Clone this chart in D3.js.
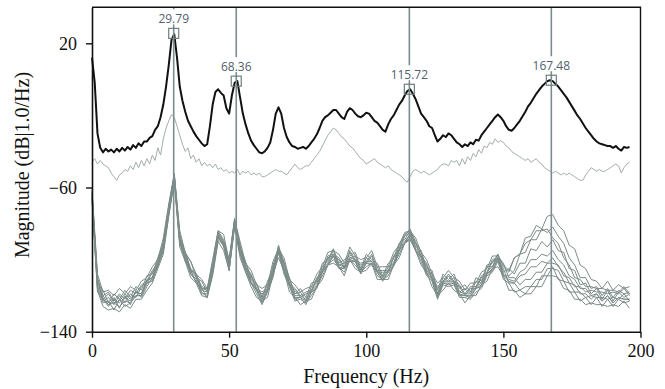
<!DOCTYPE html>
<html>
<head>
<meta charset="utf-8">
<script src="https://cdn.jsdelivr.net/npm/d3@7"></script>
<style>
  body { margin: 0; background: #fff; }
  svg { display: block; }
</style>
</head>
<body>
<div id="chart"></div>
<script>
// frequency grids (Hz)
const freqFine = d3.range(0, 197, 1);
const freqCoarse = d3.range(0, 197, 2);

// averaged spectrum (black), 1 Hz bins
const meanDb = [
  12,-2,-30,-38,-40.5,-38.5,-40,-39,-40.5,-38.5,
  -40,-38,-39.5,-37.5,-39,-36.5,-38,-35.5,-37,-34.5,
  -34.5,-32.5,-31.5,-28,-26,-21,-14,-4,8,22,
  25,12,-4,-12,-18,-23,-26,-29,-31.5,-33.5,
  -35.5,-37,-36,-26,-14,-7,-5.5,-7.5,-9,-16,
  -19,-9,-2,-1,-10,-19,-25,-30,-34,-36.5,
  -38.5,-40.5,-41,-40,-38,-35,-28,-19,-15.5,-19,
  -27,-32,-35,-37,-37.5,-38.5,-38,-37.5,-38.5,-37,
  -35,-33,-30.5,-27,-23,-21,-20,-18.5,-17,-17,
  -19,-21,-22,-18,-16,-17,-19,-20.5,-21,-20,
  -18.5,-19,-21,-23,-24,-26,-28,-29,-25,-22,
  -20,-17,-14,-12,-9,-6.5,-5.5,-8,-11,-15,
  -19,-21,-23,-26,-27,-31,-34.5,-33,-31,-32,
  -30,-31,-33,-35,-36,-37.5,-36,-37,-35,-36,
  -33.5,-34,-31,-29,-27,-25,-23,-21,-19.5,-21,
  -23,-26,-28,-28.5,-27,-25,-23,-20.5,-18,-15,
  -13,-10.5,-8,-6,-4,-2.5,-1,-0.5,-1,-2.5,
  -4,-6,-8,-10,-12.5,-15,-17.5,-20,-22,-24.5,
  -27,-29,-31,-33,-34.5,-35.5,-36,-36.5,-37,-37,
  -38,-37,-38.5,-39.5,-37.5,-38,-37.5
];

// reference spectrum (light grey), 1 Hz bins
const refDb = [
  -46,-44,-47,-45,-47,-48,-49,-52,-54,-56,
  -53,-52,-50,-51,-48,-50,-46,-49,-45,-48,
  -44,-47,-42,-45,-38,-42,-33,-27,-23,-19.5,
  -21,-26,-31,-36,-40,-38,-44,-42,-46,-44,
  -48,-46,-48,-47,-49,-47,-50,-49,-51,-50,
  -52,-51,-52,-50,-53,-51,-52,-51,-53,-52,
  -53,-52,-54,-54,-53,-52,-51,-50,-51,-51,
  -52,-53,-51,-49,-47,-49,-50,-49,-48,-48,
  -46,-44,-42,-40,-37,-34,-31,-29,-27,-28,
  -30,-32,-33,-35,-37,-38,-40,-42,-44,-45,
  -47,-46,-45,-44,-46,-47,-48,-49,-48,-50,
  -51,-52,-53,-54,-56,-57,-54,-51,-50,-51,
  -52,-51,-52,-53,-52,-51,-50,-48,-47,-47,
  -48,-45,-46,-45,-48,-44,-47,-43,-45,-41,
  -43,-39,-41,-37,-38,-35,-36,-33,-35,-34,
  -35,-37,-38,-40,-41,-42,-43,-44,-45,-44,
  -46,-45,-44,-46,-47,-49,-50,-51,-52,-51,
  -52,-53,-52,-53,-52,-53,-54,-55,-56,-56,
  -53,-51,-49,-50,-51,-50,-51,-51,-50,-49,
  -48,-47,-48,-52,-49,-47,-46
];

// individual measurements (grey bundle), 2 Hz bins
const run1 = [
  -62,-113,-117,-124,-119,-122,-117,-121,-115,-117,
  -109,-108,-99,-91,-70,-52,-86,-97,-101,-110,
  -112,-118,-101,-84,-89,-100,-77,-93,-101,-110,
  -113,-121,-112,-106,-92,-102,-110,-119,-116,-121,
  -113,-112,-102,-100,-94,-102,-100,-98,-96,-105,
  -97,-100,-102,-109,-102,-99,-91,-87,-83,-91,
  -95,-105,-106,-117,-108,-111,-108,-116,-114,-118,
  -110,-112,-103,-102,-97,-104,-107,-99,-97,-88,
  -87,-81,-83,-76,-75,-81,-84,-92,-94,-103,
  -105,-111,-112,-116,-112,-117,-114,-116,-115
];
const run2 = [
  -66,-116,-124,-123,-128,-122,-126,-124,-120,-120,
  -113,-112,-103,-95,-74,-55,-91,-99,-108,-111,
  -119,-119,-107,-87,-93,-104,-80,-97,-105,-113,
  -117,-124,-117,-109,-96,-106,-114,-122,-121,-125,
  -118,-116,-107,-103,-98,-105,-105,-101,-101,-108,
  -102,-103,-107,-112,-107,-104,-95,-91,-86,-95,
  -99,-108,-111,-121,-113,-114,-113,-120,-120,-121,
  -116,-115,-108,-106,-100,-109,-109,-106,-97,-96,
  -89,-89,-83,-85,-82,-87,-91,-99,-103,-110,
  -110,-116,-115,-120,-116,-121,-117,-119,-118
];
const run3 = [
  -63,-111,-122,-119,-124,-123,-119,-122,-118,-119,
  -111,-110,-100,-93,-71,-53,-88,-96,-106,-108,
  -116,-116,-105,-85,-91,-101,-78,-95,-102,-111,
  -114,-121,-114,-107,-93,-104,-111,-119,-118,-123,
  -115,-113,-104,-101,-95,-103,-102,-99,-98,-106,
  -99,-101,-104,-110,-104,-102,-92,-89,-84,-93,
  -96,-106,-108,-119,-110,-112,-110,-118,-116,-119,
  -112,-113,-104,-104,-97,-107,-105,-108,-102,-102,
  -94,-95,-90,-93,-89,-95,-96,-105,-106,-114,
  -113,-119,-116,-122,-117,-123,-118,-121,-119
];
const run4 = [
  -65,-114,-120,-125,-122,-124,-121,-123,-118,-119,
  -112,-110,-102,-94,-73,-55,-90,-98,-107,-110,
  -117,-118,-106,-87,-92,-103,-80,-96,-104,-112,
  -116,-122,-116,-107,-95,-105,-113,-120,-120,-122,
  -117,-114,-106,-102,-97,-103,-104,-99,-100,-106,
  -101,-101,-106,-110,-106,-102,-94,-90,-86,-94,
  -98,-106,-110,-119,-112,-112,-112,-118,-119,-119,
  -115,-113,-107,-104,-99,-108,-111,-112,-107,-105,
  -100,-100,-97,-98,-95,-100,-103,-109,-111,-116,
  -116,-120,-119,-123,-120,-124,-121,-122,-122
];
const run5 = [
  -64,-111,-123,-121,-125,-120,-124,-119,-121,-115,
  -113,-107,-103,-91,-72,-54,-89,-97,-106,-109,
  -116,-117,-105,-86,-91,-102,-79,-93,-105,-109,
  -117,-119,-117,-104,-95,-102,-114,-117,-121,-119,
  -118,-111,-107,-99,-98,-100,-105,-96,-101,-103,
  -102,-98,-107,-107,-107,-99,-95,-87,-85,-91,
  -99,-103,-111,-116,-113,-109,-113,-115,-120,-116,
  -116,-110,-108,-101,-100,-105,-113,-113,-117,-115,
  -115,-111,-111,-105,-105,-106,-112,-113,-118,-118,
  -121,-120,-121,-121,-122,-121,-122,-119,-123
];
const run6 = [
  -67,-117,-126,-128,-127,-129,-125,-127,-122,-122,
  -117,-113,-105,-97,-76,-57,-93,-101,-110,-113,
  -120,-121,-109,-90,-95,-106,-82,-99,-107,-115,
  -121,-123,-121,-108,-99,-106,-118,-121,-125,-123,
  -122,-115,-111,-103,-102,-104,-109,-100,-105,-107,
  -106,-102,-111,-111,-111,-103,-99,-91,-89,-95,
  -103,-107,-115,-120,-117,-113,-117,-119,-124,-120,
  -120,-114,-112,-105,-104,-109,-117,-117,-121,-119,
  -119,-115,-115,-109,-109,-110,-116,-117,-122,-122,
  -125,-124,-125,-125,-126,-125,-126,-123,-127
];
const run7 = [
  -61,-108,-118,-117,-120,-116,-119,-115,-117,-112,
  -110,-104,-100,-88,-69,-53,-84,-96,-101,-108,
  -111,-116,-100,-84,-86,-101,-78,-90,-102,-106,
  -114,-116,-114,-101,-94,-99,-111,-114,-118,-116,
  -115,-108,-104,-96,-95,-97,-102,-93,-98,-100,
  -99,-95,-104,-104,-104,-96,-92,-85,-84,-88,
  -96,-100,-108,-113,-110,-106,-110,-112,-117,-113,
  -113,-107,-105,-98,-98,-102,-110,-110,-114,-111,
  -111,-107,-107,-102,-102,-103,-109,-110,-115,-115,
  -118,-117,-118,-118,-119,-118,-119,-116,-120
];
const run8 = [
  -66,-118,-122,-126,-121,-127,-120,-125,-117,-121,
  -115,-110,-104,-95,-75,-56,-91,-100,-108,-112,
  -118,-121,-107,-89,-92,-106,-81,-97,-107,-113,
  -119,-125,-118,-110,-96,-108,-115,-123,-122,-124,
  -120,-115,-109,-103,-100,-104,-107,-100,-103,-107,
  -104,-102,-109,-111,-109,-103,-97,-91,-88,-95,
  -101,-109,-112,-122,-114,-115,-114,-121,-121,-122,
  -118,-116,-109,-107,-101,-111,-113,-118,-117,-119,
  -115,-115,-109,-109,-104,-111,-112,-118,-118,-123,
  -121,-125,-121,-126,-122,-126,-122,-124,-123
];
const run9 = [
  -63,-110,-120,-118,-123,-119,-122,-117,-119,-114,
  -112,-106,-102,-90,-71,-53,-88,-96,-105,-108,
  -115,-116,-104,-85,-90,-101,-78,-92,-104,-108,
  -116,-118,-116,-103,-94,-101,-113,-116,-120,-118,
  -117,-110,-106,-98,-97,-99,-104,-95,-100,-102,
  -101,-97,-106,-106,-106,-98,-94,-86,-84,-90,
  -98,-102,-110,-115,-112,-108,-112,-114,-119,-115,
  -115,-109,-107,-100,-99,-103,-106,-99,-97,-91,
  -89,-84,-84,-83,-88,-91,-99,-103,-110,-111,
  -115,-115,-116,-116,-117,-117,-118,-115,-119
];
const run10 = [
  -65,-115,-122,-125,-124,-126,-123,-124,-120,-120,
  -113,-111,-103,-95,-74,-55,-89,-101,-106,-113,
  -116,-121,-105,-88,-91,-106,-80,-97,-105,-113,
  -117,-123,-117,-108,-95,-106,-114,-121,-121,-123,
  -118,-115,-107,-103,-98,-104,-105,-100,-101,-107,
  -102,-102,-107,-111,-107,-103,-95,-91,-86,-95,
  -99,-107,-111,-120,-113,-113,-113,-119,-120,-120,
  -116,-114,-108,-105,-100,-109,-112,-113,-109,-108,
  -104,-104,-101,-102,-99,-104,-107,-113,-114,-119,
  -119,-122,-119,-123,-120,-124,-121,-122,-122
];
const runs = [run1, run2, run3, run4, run5, run6, run7, run8, run9, run10];

// peak markers
const markerFreqs = [29.79, 52.6, 115.72, 167.48];
const markerDb = [25.5, -1, -5.5, -0.5];
const markerLabels = ["29.79", "68.36", "115.72", "167.48"];

// axes
const xTicks = [0, 50, 100, 150, 200];
const yTicks = [20, -60, -140];

/*******************************/
/*    Append the containers    */
/*******************************/
const width = 665, height = 389;
const plot = { left: 92, right: 640.5, top: 7.25, bottom: 331.7 };
const serifFont = '"Liberation Serif"';
const labelFont = '"Open Sans"';

const svg = d3.select("#chart")
  .append("svg")
    .attr("width", width)
    .attr("height", height);

const xScale = d3.scaleLinear()
  .domain([0, 200])
  .range([plot.left, plot.right]);

const yScale = d3.scaleLinear()
  .domain([-140, 40])
  .range([plot.bottom, plot.top]);

const line = d3.line()
  .x(d => xScale(d[0]))
  .y(d => yScale(d[1]));

/********************/
/*  Bundle of runs  */
/********************/
svg.append("g")
  .selectAll("path")
  .data(runs)
  .join("path")
    .attr("d", r => line(r.map((v, i) => [freqCoarse[i], v])))
    .attr("fill", "none")
    .attr("stroke", "#7b8b88")
    .attr("stroke-width", 1)
    .attr("stroke-linejoin", "round");

// reference spectrum
svg.append("path")
  .attr("d", line(refDb.map((v, i) => [freqFine[i], v])))
  .attr("fill", "none")
  .attr("stroke", "#a3aeab")
  .attr("stroke-width", 1);

// mean spectrum
svg.append("path")
  .attr("d", line(meanDb.map((v, i) => [freqFine[i], v])))
  .attr("fill", "none")
  .attr("stroke", "#111")
  .attr("stroke-width", 2)
  .attr("stroke-linejoin", "round");

/*********************/
/*  Marker cursors   */
/*********************/
svg.append("g")
  .selectAll("line")
  .data(markerFreqs)
  .join("line")
    .attr("x1", d => xScale(d))
    .attr("x2", d => xScale(d))
    .attr("y1", plot.top)
    .attr("y2", plot.bottom)
    .attr("stroke", "#7d8d8d")
    .attr("stroke-width", 1.6);

const markers = svg.append("g")
  .selectAll("g")
  .data(markerFreqs.map((f, i) => ({ f, db: markerDb[i], label: markerLabels[i] })))
  .join("g")
    .attr("transform", d => `translate(${xScale(d.f)}, ${yScale(d.db)})`);

markers.append("rect")
  .attr("x", -5).attr("y", -5)
  .attr("width", 10).attr("height", 10)
  .attr("fill", "none")
  .attr("stroke", "#6f7f80")
  .attr("stroke-width", 1.2);

markers.append("rect")
  .attr("x", -20).attr("y", -24)
  .attr("width", 40).attr("height", 15)
  .attr("fill", "#fff");

markers.append("text")
  .attr("y", -10)
  .attr("text-anchor", "middle")
  .style("font-family", labelFont)
  .style("font-size", "12px")
  .attr("fill", "#52606e")
  .text(d => d.label);

/******************/
/* Appending axes */
/******************/
const bottomAxis = d3.axisBottom(xScale)
  .tickValues(xTicks)
  .tickSize(6)
  .tickSizeOuter(0)
  .tickPadding(7);
const gx = svg.append("g")
  .attr("transform", `translate(0, ${plot.bottom})`)
  .call(bottomAxis);

const leftAxis = d3.axisLeft(yScale)
  .tickValues(yTicks)
  .tickSize(6)
  .tickSizeOuter(0)
  .tickPadding(9);
const gy = svg.append("g")
  .attr("transform", `translate(${plot.left}, 0)`)
  .call(leftAxis);

[gx, gy].forEach(g => {
  g.attr("font-family", null).attr("font-size", null);
  g.select(".domain").attr("stroke", "#111").attr("stroke-width", 1.6);
  g.selectAll(".tick line").attr("stroke", "#111").attr("stroke-width", 1.4);
  g.selectAll(".tick text")
    .style("font-family", serifFont)
    .style("font-size", "18px")
    .attr("fill", "#111");
});

// top and right frame
svg.append("path")
  .attr("d", `M${plot.left},${plot.top}H${plot.right}V${plot.bottom}`)
  .attr("fill", "none")
  .attr("stroke", "#111")
  .attr("stroke-width", 1.4);

// axis titles
svg.append("text")
  .attr("x", (plot.left + plot.right) / 2)
  .attr("y", 383)
  .attr("text-anchor", "middle")
  .style("font-family", serifFont)
  .style("font-size", "20px")
  .attr("fill", "#111")
  .text("Frequency (Hz)");

svg.append("text")
  .attr("transform", `translate(29, 165) rotate(-90)`)
  .attr("text-anchor", "middle")
  .style("font-family", serifFont)
  .style("font-size", "20px")
  .attr("fill", "#111")
  .text("Magnitude (dB|1.0/Hz)");
</script>
</body>
</html>
